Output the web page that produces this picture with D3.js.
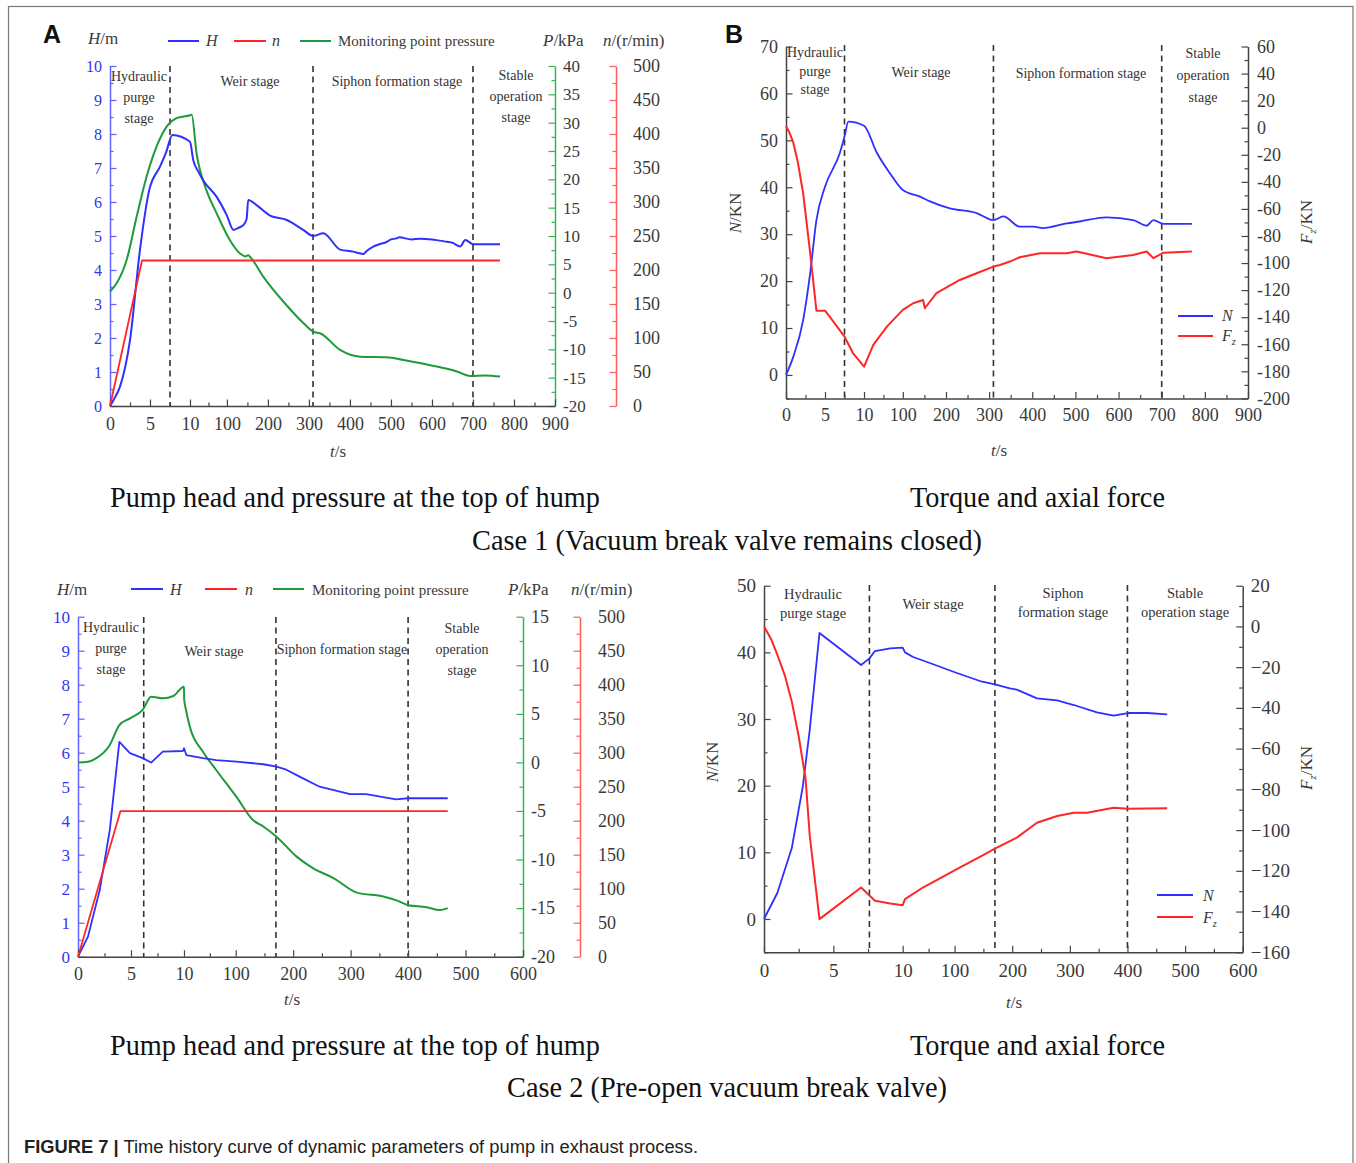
<!DOCTYPE html>
<html>
<head>
<meta charset="utf-8">
<script src="https://cdn.jsdelivr.net/npm/d3@7"></script>
<style>
  body { margin: 0; background: #fff; }
  svg { display: block; }
</style>
</head>
<body>
<svg id="fig" width="1356" height="1163"></svg>
<script>
// ---------------- data ----------------
// time axis: 0–10 s is stretched, the rest is compressed
const timeTicksLong  = [0, 5, 10, 100, 200, 300, 400, 500, 600, 700, 800, 900];
const timeMinorLong  = [2.5, 7.5, 55, 150, 250, 350, 450, 550, 650, 750, 850];
const timeTicksShort = [0, 5, 10, 100, 200, 300, 400, 500, 600];
const timeMinorShort = [2.5, 7.5, 55, 150, 250, 350, 450, 550];

const stageBoundsCase1 = [7.5, 310, 700];
const stageBoundsCase2 = [6.2, 170, 400];

// Case 1, pump head H (m)
const case1Head = [[0,0],[0.5,0.2],[1.25,0.57],[2.5,1.94],[3.75,4.6],[4.9,6.35],[6.25,7.04],[7.0,7.45],[7.8,7.97],
  [10,7.77],[18,7.23],[30,6.9],[42,6.64],[75,6.15],[100,5.6],[116,5.18],[130,5.25],[140,5.32],[148,5.5],[152,6.06],
  [173,5.9],[205,5.6],[246,5.47],[286,5.18],[311,5.0],[335,5.08],[376,4.6],[408,4.54],[420,4.5],[433,4.47],[440,4.55],
  [457,4.69],[470,4.75],[490,4.83],[500,4.9],[514,4.93],[520,4.96],[550,4.9],[571,4.92],[600,4.9],[636,4.83],
  [650,4.8],[669,4.69],[681,4.88],[701,4.76],[766,4.76]];
// Case 1, monitoring point pressure P (kPa)
const case1Pressure = [[0,0.2],[0.83,1.65],[2.08,5.76],[3.33,13.4],[4.58,20.5],[5.83,25.8],[7.08,29.3],[8.33,30.8],
  [10,31.3],[14,31.4],[26,24.6],[50,18.1],[75,14.0],[107,9.3],[132,6.9],[145,6.4],[152,6.6],[160,6.0],[189,2.8],
  [238,-1.6],[287,-5.4],[311,-6.9],[328,-7.2],[376,-10.1],[425,-11.3],[490,-11.4],[531,-11.9],[596,-12.8],
  [661,-13.9],[693,-14.7],[730,-14.6],[766,-14.8]];
// Case 1, rotational speed n (r/min)
const case1Speed = [[0,0],[4,214],[766,214]];
// Case 1, torque N (KN)
const case1Torque = [[0,0],[0.94,3.9],[2.2,11.7],[3.1,21.7],[3.9,33],[5,40.1],[6.9,47.3],[7.5,50.8],[8,54],[10,53.1],
  [40,47.3],[70,43],[100,39.4],[140,38],[163,37],[209,35.5],[271,34.5],[310,33],[333,33.8],[371,31.6],[402,31.6],
  [425,31.3],[480,32.3],[510,32.7],[572,33.6],[634,33],[665,31.8],[681,33],[704,32.2],[770,32.2]];
// Case 1, axial force Fz (KN)
const case1Axial = [[0,1],[0.4,-3],[0.9,-10.2],[1.5,-25],[2.2,-48.4],[3.1,-92.7],[3.9,-135.2],[5,-135.2],[5.6,-139.6],
  [7.5,-154.4],[8.6,-166.7],[10.2,-176.6],[31.6,-160.5],[63,-147],[100,-134.6],[124,-129.7],[147,-127.3],
  [151,-133.4],[178,-122.3],[232,-112.5],[271,-107.5],[310,-102.6],[325,-101.4],[348,-98.9],[371,-95.7],
  [418,-92.7],[480,-92.7],[503,-91.5],[572,-96.4],[634,-94],[665,-91.5],[681,-96.4],[704,-92.3],[770,-91.5]];

// Case 2, pump head H (m)
const case2Head = [[0,0],[0.94,0.59],[2.05,1.96],[3,3.73],[3.9,6.32],[4.9,5.99],[6.1,5.84],[6.9,5.71],[8,6.03],
  [9.9,6.05],[10.1,6.13],[14,5.93],[43,5.84],[66,5.78],[101,5.74],[148,5.66],[171,5.59],[188,5.5],[212,5.29],
  [246,5.0],[299,4.78],[327,4.78],[379,4.63],[400,4.66],[469,4.66]];
// Case 2, monitoring point pressure P (kPa)
const case2Pressure = [[0,0],[0.94,0.07],[1.7,0.42],[3,1.8],[3.9,3.85],[4.9,4.54],[6.1,5.4],[6.9,6.77],[8,6.6],
  [9,6.84],[10,7.8],[10.3,6.5],[13.5,5.4],[20,3.7],[43,1.1],[66,-0.78],[101,-3.53],[130,-5.93],[148,-6.6],
  [171,-7.65],[206,-9.7],[235,-10.9],[270,-11.9],[311,-13.4],[357,-13.8],[380,-14.2],[400,-14.7],[432,-14.9],
  [455,-15.2],[469,-15.0]];
// Case 2, rotational speed n (r/min)
const case2Speed = [[0,0],[4,214],[469,214]];
// Case 2, torque N (KN)
const case2Torque = [[0,0],[0.96,3.9],[2,10.6],[2.8,19.9],[3.3,28.4],[4,42.9],[7,38.1],[7.6,39.1],[8,40.2],
  [9.1,40.6],[10,40.7],[14,40],[28,39.3],[57,38.4],[104,36.9],[144,35.7],[170,35.2],[196,34.6],[208,34.4],
  [243,33.1],[278,32.8],[307,32.1],[347,31],[376,30.5],[401,30.9],[434,30.9],[469,30.7]];
// Case 2, axial force Fz (KN)
const case2Axial = [[0,0],[0.5,-6],[0.96,-13.9],[1.5,-24],[2,-36.8],[2.5,-53.9],[3,-75],[3.3,-102.9],[4,-143.7],
  [7,-128.2],[8,-134.7],[9.1,-136],[10,-136.9],[14,-133.9],[45,-128.2],[104,-119.2],[152,-111.9],[170,-109.1],
  [196,-105.4],[208,-103.7],[243,-96.4],[278,-93.1],[307,-91.5],[330,-91.5],[376,-89],[401,-89.5],[469,-89.3]];

const stageNames = [["Hydraulic", "purge", "stage"], ["Weir stage"], ["Siphon formation stage"], ["Stable", "operation", "stage"]];

// ---------------- drawing ----------------
const SERIF = '"Liberation Serif","Times New Roman",serif';
const SANS = '"Liberation Sans",Arial,sans-serif';
const BLUE = '#2f2fff', RED = '#ff2626', GREEN = '#1e9a3c';
const AXBLUE = '#6060ff', AXGREEN = '#35b552', AXRED = '#ff5c5c', DARK = '#3a3a3a';

const svg = d3.select('#fig');
svg.append('rect').attr('width', 1356).attr('height', 1163).attr('fill', '#fff');
svg.append('rect').attr('x', 8.5).attr('y', 6.5).attr('width', 1344.5).attr('height', 1180)
  .attr('fill', 'none').attr('stroke', '#777').attr('stroke-width', 1.2);

const hyphen = d => (d < 0 ? '-' + (-d) : String(d));
const minus = d => (d < 0 ? '\u2212' + (-d) : String(d));

function styledAxis(orient, scale, pos, major, minor, st) {
  const make = { left: d3.axisLeft, right: d3.axisRight, bottom: d3.axisBottom }[orient];
  const tr = orient === 'bottom' ? `translate(0,${pos})` : `translate(${pos},0)`;
  const gm = svg.append('g').attr('transform', tr)
    .call(make(scale).tickValues(minor).tickSizeInner(-3.5).tickSizeOuter(0).tickFormat(() => ''));
  gm.select('.domain').remove();
  gm.selectAll('line').attr('stroke', st.color).attr('stroke-width', 1.2);
  const g = svg.append('g').attr('transform', tr)
    .call(make(scale).tickValues(major).tickSizeInner(-6.5).tickSizeOuter(0)
      .tickPadding(st.pad).tickFormat(st.format || hyphen));
  g.attr('font-family', SERIF).attr('font-size', st.fs);
  g.select('.domain').attr('stroke', st.color).attr('stroke-width', 1.5);
  g.selectAll('.tick line').attr('stroke', st.color).attr('stroke-width', 1.2);
  g.selectAll('.tick text').attr('fill', st.label || DARK);
  return g;
}

function drawLine(data, x, y, color, w, smooth = false) {
  svg.append('path').datum(data)
    .attr('d', d3.line().x(d => x(d[0])).y(d => y(d[1])).curve(smooth ? d3.curveMonotoneX : d3.curveLinear))
    .attr('fill', 'none').attr('stroke', color).attr('stroke-width', w)
    .attr('stroke-linejoin', 'round');
}

function dashes(bounds, x, yTop, yBottom) {
  bounds.forEach(t => {
    svg.append('line').attr('x1', x(t)).attr('x2', x(t)).attr('y1', yTop).attr('y2', yBottom)
      .attr('stroke', '#333').attr('stroke-width', 1.6).attr('stroke-dasharray', '6,4.5');
  });
}

// rich text: parts = [[string, 'i' | 'sub' | '']]
function rich(x, y, parts, o = {}) {
  const t = svg.append('text').attr('font-family', o.family || SERIF).attr('font-size', o.fs || 17)
    .attr('fill', o.fill || DARK).attr('text-anchor', o.anchor || 'start');
  if (o.rotate) t.attr('transform', `translate(${x},${y}) rotate(${o.rotate})`);
  else t.attr('x', x).attr('y', y);
  let shifted = false;
  parts.forEach(([s, st]) => {
    const sp = t.append('tspan').text(s);
    if (st === 'i') sp.attr('font-style', 'italic');
    if (st === 'sub') { sp.attr('font-size', (o.fs || 17) * 0.65).attr('dy', 4).attr('font-style', 'italic'); shifted = true; }
    else if (shifted) { sp.attr('dy', -4); shifted = false; }
  });
  return t;
}

function stageText(lines, cx, y0, lh, fs) {
  lines.forEach((s, i) => {
    svg.append('text').attr('x', cx).attr('y', y0 + i * lh).attr('text-anchor', 'middle')
      .attr('font-family', SERIF).attr('font-size', fs).attr('fill', '#333').text(s);
  });
}

function legendLine(x1, x2, y, color) {
  svg.append('line').attr('x1', x1).attr('x2', x2).attr('y1', y).attr('y2', y)
    .attr('stroke', color).attr('stroke-width', 2);
}

// ===== Panel A: case 1 head / pressure / speed =====
{
  const x = d3.scaleLinear().domain([0, 10, 900]).range([110, 190, 555]);
  const h = d3.scaleLinear().domain([0, 10]).range([406, 66]);
  const p = d3.scaleLinear().domain([-20, 40]).range([406, 66]);
  const n = d3.scaleLinear().domain([0, 500]).range([406, 66]);

  dashes(stageBoundsCase1, x, 66, 406);
  styledAxis('left', h, 110, d3.range(0, 11), d3.range(0.5, 10, 1), { color: AXBLUE, label: '#3535f0', fs: 16, pad: 8 });
  styledAxis('right', p, 555, d3.range(-20, 41, 5), d3.range(-17.5, 40, 5), { color: AXGREEN, fs: 17, pad: 8 });
  styledAxis('right', n, 616, d3.range(0, 501, 50), d3.range(25, 500, 50), { color: AXRED, fs: 18, pad: 17 });
  styledAxis('bottom', x, 406, timeTicksLong, timeMinorLong, { color: '#444', fs: 18, pad: 11 });

  drawLine(case1Pressure, x, p, GREEN, 2, true);
  drawLine(case1Head, x, h, BLUE, 2, true);
  drawLine(case1Speed, x, n, RED, 1.8);

  stageText(stageNames[0], 139, 81, 21, 14);
  stageText(stageNames[1], 250, 86, 21, 14);
  stageText(stageNames[2], 397, 86, 21, 14);
  stageText(stageNames[3], 516, 80, 21, 14);

  svg.append('text').attr('x', 43).attr('y', 43).attr('font-family', SANS).attr('font-weight', 'bold')
    .attr('font-size', 25).attr('fill', '#111').text('A');
  rich(88, 44, [['H', 'i'], ['/m', '']], { fs: 17 });
  rich(543, 46, [['P', 'i'], ['/kPa', '']], { fs: 17 });
  rich(603, 46, [['n', 'i'], ['/(r/min)', '']], { fs: 17 });
  rich(338, 457, [['t', 'i'], ['/s', '']], { fs: 17, anchor: 'middle' });

  legendLine(168, 199, 41, BLUE); rich(206, 46, [['H', 'i']], { fs: 16 });
  legendLine(234, 266, 41, RED); rich(272, 46, [['n', 'i']], { fs: 16 });
  legendLine(300, 331, 41, GREEN); rich(338, 46, [['Monitoring point pressure', '']], { fs: 15 });
}

// ===== Panel B: case 1 torque / axial force =====
{
  const x = d3.scaleLinear().domain([0, 10, 900]).range([786, 864, 1248]);
  const nn = d3.scaleLinear().domain([-5, 70]).range([398.4, 46.5]);
  const f = d3.scaleLinear().domain([-200, 60]).range([398.4, 46.5]);

  dashes(stageBoundsCase1, x, 45, 398);
  styledAxis('left', nn, 786, d3.range(0, 71, 10), d3.range(-5, 70, 10), { color: '#444', fs: 18, pad: 8 });
  styledAxis('right', f, 1248, d3.range(-200, 61, 20), d3.range(-190, 60, 20), { color: '#444', fs: 18, pad: 9 });
  styledAxis('bottom', x, 398.4, timeTicksLong, timeMinorLong, { color: '#444', fs: 18, pad: 10 });

  drawLine(case1Torque, x, nn, BLUE, 1.8, true);
  drawLine(case1Axial, x, f, RED, 2);

  stageText(stageNames[0], 815, 57, 18.5, 14);
  stageText(stageNames[1], 921, 77, 18.5, 14);
  stageText(stageNames[2], 1081, 78, 18.5, 14);
  stageText(stageNames[3], 1203, 58, 22, 14);

  svg.append('text').attr('x', 725).attr('y', 43).attr('font-family', SANS).attr('font-weight', 'bold')
    .attr('font-size', 25).attr('fill', '#111').text('B');
  rich(741, 213, [['N', 'i'], ['/KN', '']], { fs: 17, anchor: 'middle', rotate: -90 });
  rich(1312, 222, [['F', 'i'], ['z', 'sub'], ['/KN', '']], { fs: 17, anchor: 'middle', rotate: -90 });
  rich(999, 456, [['t', 'i'], ['/s', '']], { fs: 17, anchor: 'middle' });

  legendLine(1178, 1213, 316, BLUE); rich(1222, 321, [['N', 'i']], { fs: 16 });
  legendLine(1178, 1213, 336, RED); rich(1222, 341, [['F', 'i'], ['z', 'sub']], { fs: 16 });
}

// ===== Panel C: case 2 head / pressure / speed =====
{
  const x = d3.scaleLinear().domain([0, 10, 600]).range([78, 184, 523]);
  const h = d3.scaleLinear().domain([0, 10]).range([956.7, 616.7]);
  const p = d3.scaleLinear().domain([-20, 15]).range([956.7, 616.7]);
  const n = d3.scaleLinear().domain([0, 500]).range([956.7, 616.7]);

  dashes(stageBoundsCase2, x, 617, 957);
  styledAxis('left', h, 78, d3.range(0, 11), d3.range(0.5, 10, 1), { color: AXBLUE, label: '#3535f0', fs: 17, pad: 8 });
  styledAxis('right', p, 523, d3.range(-20, 16, 5), d3.range(-17.5, 15, 5), { color: AXGREEN, fs: 18, pad: 8 });
  styledAxis('right', n, 580, d3.range(0, 501, 50), d3.range(25, 500, 50), { color: AXRED, fs: 18, pad: 18 });
  styledAxis('bottom', x, 956.7, timeTicksShort, timeMinorShort, { color: '#444', fs: 18, pad: 11 });

  drawLine(case2Pressure, x, p, GREEN, 2, true);
  drawLine(case2Head, x, h, BLUE, 1.8);
  drawLine(case2Speed, x, n, RED, 1.8);

  stageText(stageNames[0], 111, 632, 21, 14);
  stageText(stageNames[1], 214, 656, 21, 14);
  stageText(stageNames[2], 342, 654, 21, 14);
  stageText(stageNames[3], 462, 633, 21, 14);

  rich(57, 595, [['H', 'i'], ['/m', '']], { fs: 17 });
  rich(508, 595, [['P', 'i'], ['/kPa', '']], { fs: 17 });
  rich(571, 595, [['n', 'i'], ['/(r/min)', '']], { fs: 17 });
  rich(292, 1005, [['t', 'i'], ['/s', '']], { fs: 17, anchor: 'middle' });

  legendLine(131, 163, 589, BLUE); rich(170, 595, [['H', 'i']], { fs: 16 });
  legendLine(205, 237, 589, RED); rich(245, 595, [['n', 'i']], { fs: 16 });
  legendLine(273, 304, 589, GREEN); rich(312, 595, [['Monitoring point pressure', '']], { fs: 15 });
}

// ===== Panel D: case 2 torque / axial force =====
{
  const x = d3.scaleLinear().domain([0, 10, 600]).range([764, 902.7, 1242.7]);
  const nn = d3.scaleLinear().domain([-5, 50]).range([952.3, 585.7]);
  const f = d3.scaleLinear().domain([-160, 20]).range([952.3, 585.7]);

  dashes(stageBoundsCase2.map((t, i) => (i === 0 ? 7.6 : t)), x, 585, 952);
  styledAxis('left', nn, 764, d3.range(0, 51, 10), d3.range(-5, 50, 10), { color: '#444', fs: 19, pad: 8 });
  styledAxis('right', f, 1242.7, d3.range(-160, 21, 20), d3.range(-150, 20, 20), { color: '#444', fs: 19, pad: 8, format: minus });
  styledAxis('bottom', x, 952.3, timeTicksShort, timeMinorShort, { color: '#444', fs: 19, pad: 11 });

  drawLine(case2Torque, x, nn, BLUE, 1.8);
  drawLine(case2Axial, x, f, RED, 2);

  stageText(["Hydraulic", "purge stage"], 813, 599, 18.5, 14.5);
  stageText(["Weir stage"], 933, 609, 18.5, 14.5);
  stageText(["Siphon", "formation stage"], 1063, 598, 18.5, 14.5);
  stageText(["Stable", "operation stage"], 1185, 598, 18.5, 14.5);

  rich(718, 762, [['N', 'i'], ['/KN', '']], { fs: 17, anchor: 'middle', rotate: -90 });
  rich(1312, 768, [['F', 'i'], ['z', 'sub'], ['/KN', '']], { fs: 17, anchor: 'middle', rotate: -90 });
  rich(1014, 1008, [['t', 'i'], ['/s', '']], { fs: 17, anchor: 'middle' });

  legendLine(1157, 1193, 895, BLUE); rich(1203, 901, [['N', 'i']], { fs: 16 });
  legendLine(1157, 1193, 917, RED); rich(1203, 923, [['F', 'i'], ['z', 'sub']], { fs: 16 });
}

// ===== sub-captions and figure caption =====
function caption(x, y, s, len, fs) {
  svg.append('text').attr('x', x).attr('y', y).attr('font-family', SERIF).attr('font-size', fs)
    .attr('fill', '#111').attr('textLength', len).attr('lengthAdjust', 'spacingAndGlyphs').text(s);
}
caption(110, 507, 'Pump head and pressure at the top of hump', 490, 29);
caption(910, 507, 'Torque and axial force', 255, 29);
caption(472, 550, 'Case 1 (Vacuum break valve remains closed)', 510, 29);
caption(110, 1055, 'Pump head and pressure at the top of hump', 490, 29);
caption(910, 1055, 'Torque and axial force', 255, 29);
caption(507, 1097, 'Case 2 (Pre-open vacuum break valve)', 440, 29);

const fig = svg.append('text').attr('x', 24).attr('y', 1153).attr('font-family', SANS).attr('font-size', 18)
  .attr('fill', '#222').attr('textLength', 674).attr('lengthAdjust', 'spacingAndGlyphs');
fig.append('tspan').attr('font-weight', 'bold').text('FIGURE 7 |');
fig.append('tspan').text(' Time history curve of dynamic parameters of pump in exhaust process.');
</script>
</body>
</html>
